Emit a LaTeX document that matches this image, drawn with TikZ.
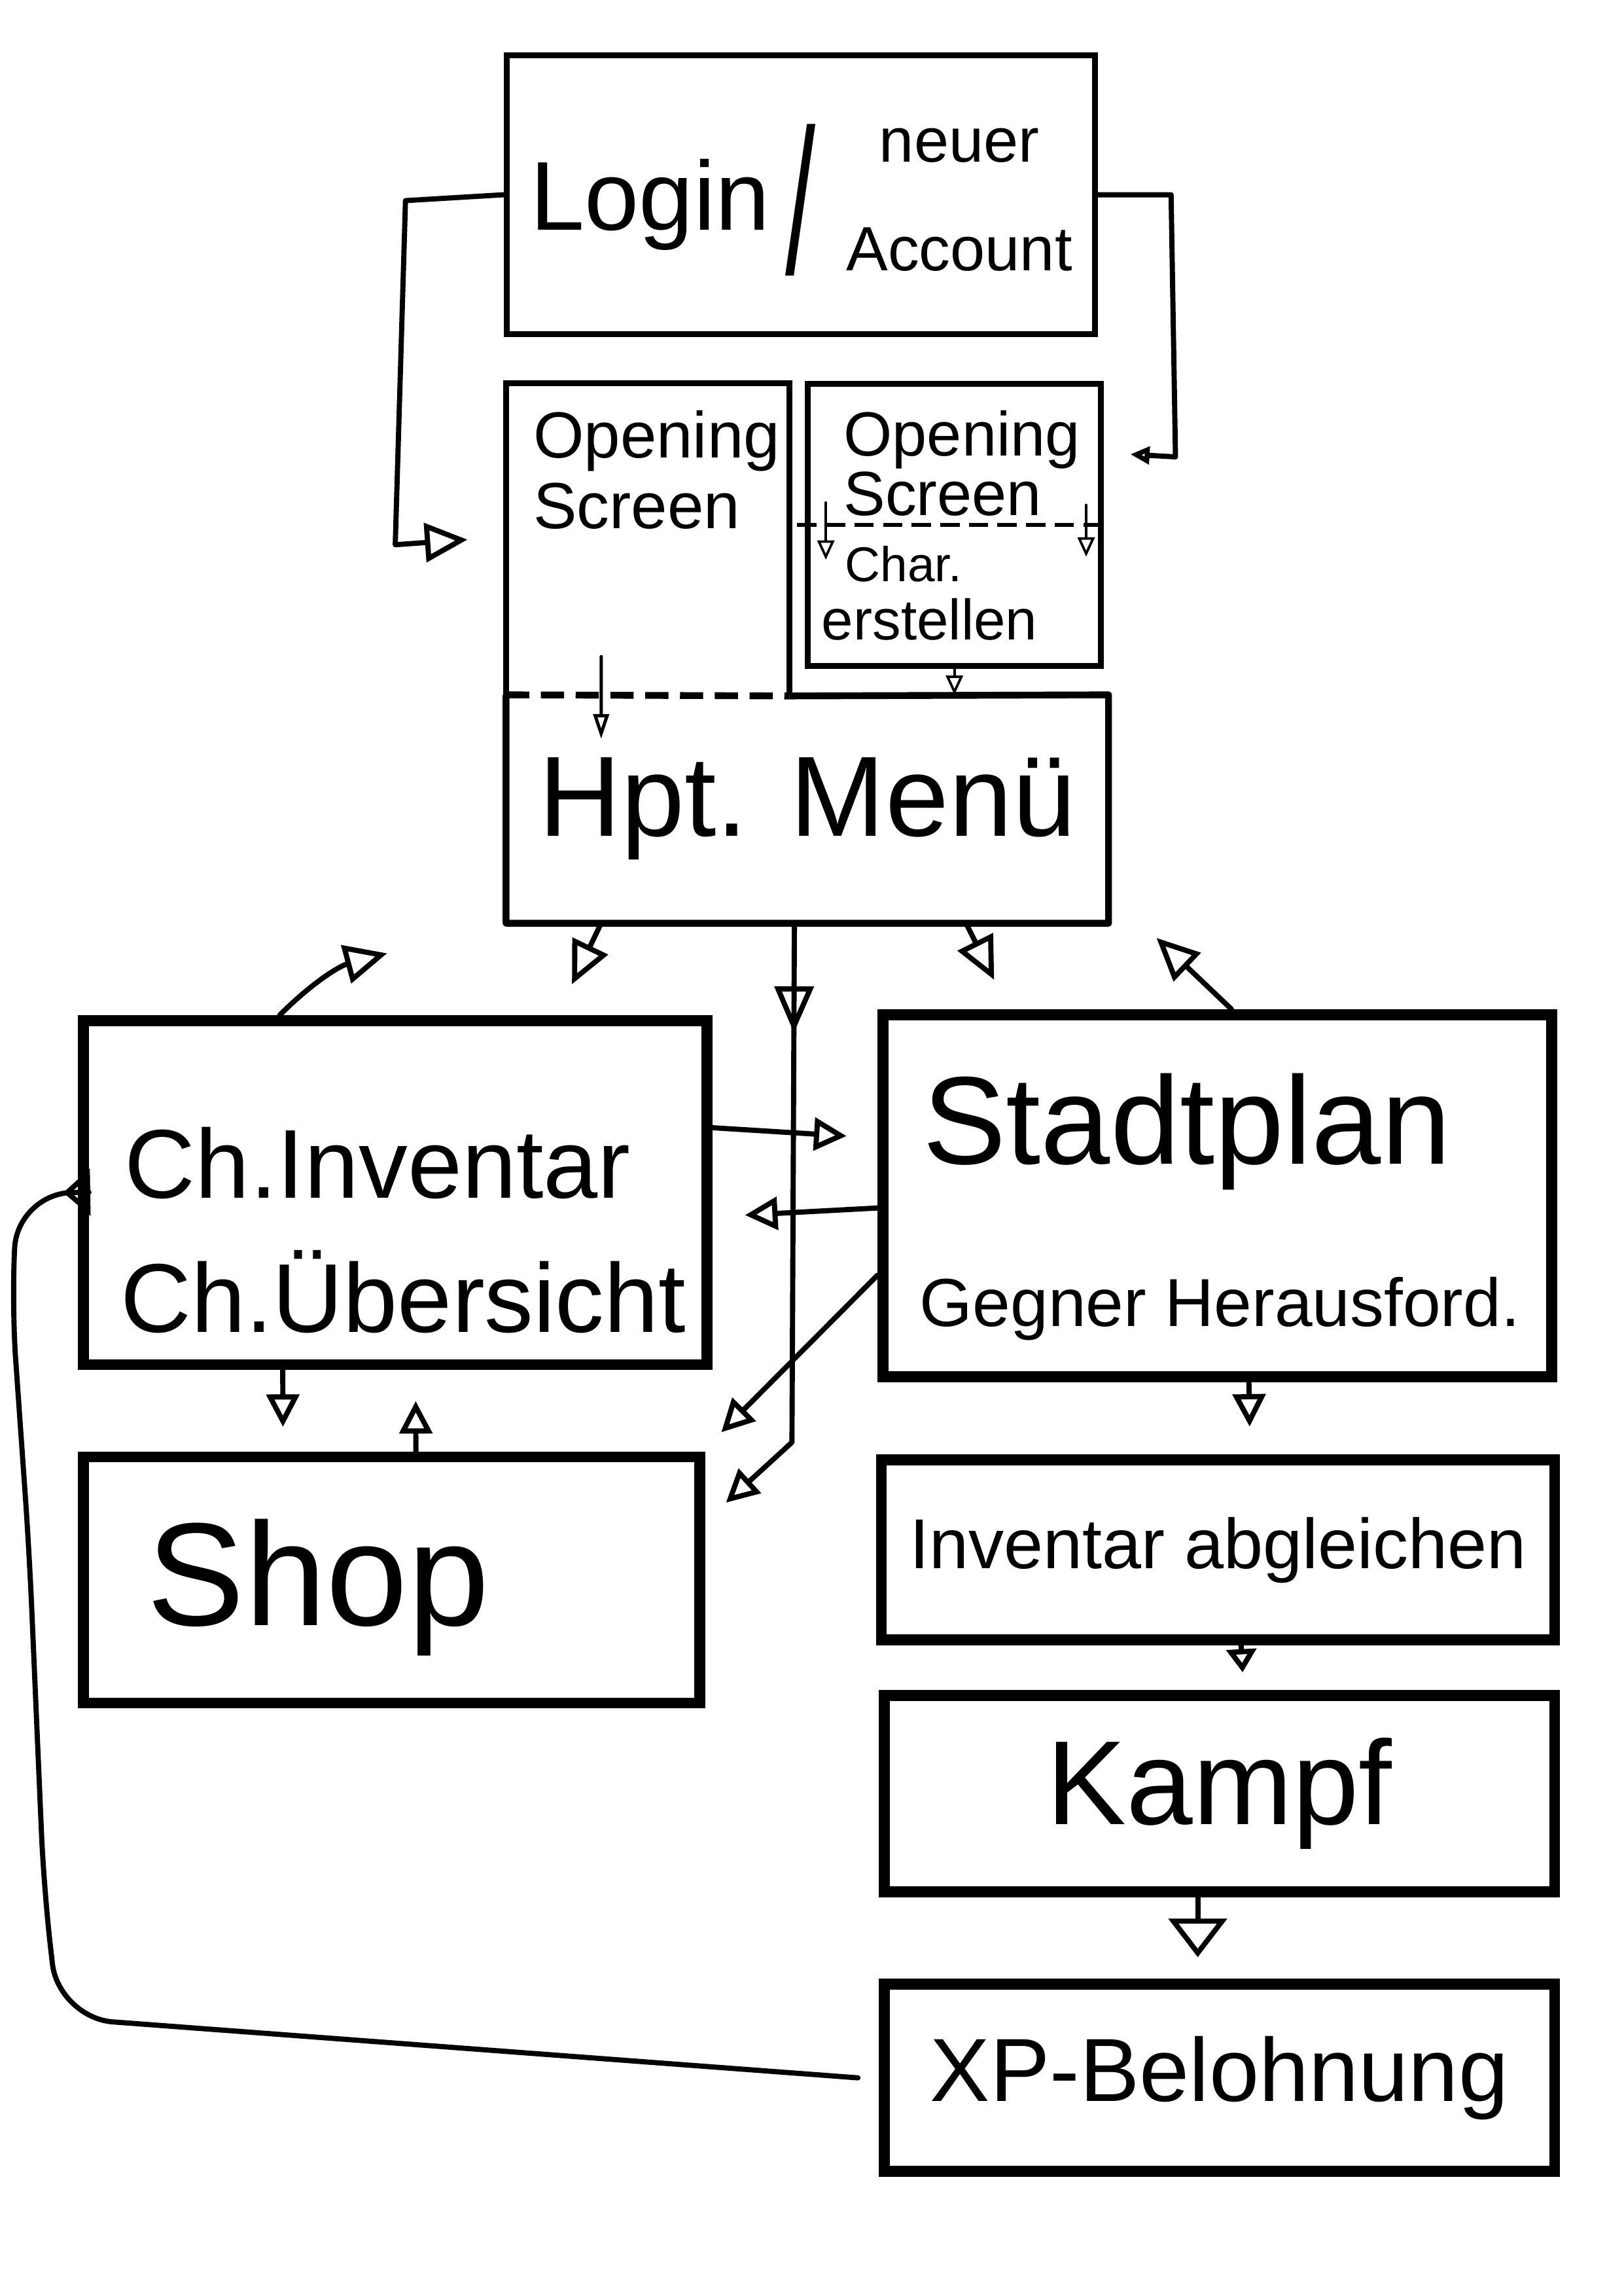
\documentclass[tikz,border=0pt]{standalone}
\usepackage{graphicx}
\usepackage{fontspec}
\setmainfont{Liberation Sans}
\usetikzlibrary{arrows.meta,decorations.markings}

\begin{document}
\begin{tikzpicture}[x=0.018936cm, y=-0.018936cm,
    box/.style={draw, line width=4pt, inner sep=0pt},
    thinbox/.style={draw, line width=2.2pt, inner sep=0pt},
    txt/.style={inner sep=0pt},
    conn/.style={line width=1.9pt, line cap=round, line join=round},
    finecon/.style={line width=0.9pt, line cap=round},
    headbig/.style={-{Triangle[open,length=0.55cm,width=0.5cm]}},
    headmid/.style={-{Triangle[open,length=0.42cm,width=0.42cm]}},
    headsmall/.style={-{Triangle[open,length=0.25cm,width=0.22cm]}}]
  \fill[white] (0,0) rectangle (1109,1568);
  \useasboundingbox (0,0) rectangle (1109,1568);

  \node[thinbox, minimum width=7.61cm, minimum height=3.60cm] (login) at (547,133) {};
  \node[txt, anchor=base west] (logintxt) at (362,157) {\fontsize{36}{36}\selectfont Login\hspace{2mm}%
    \raisebox{-0.57cm}{\fontsize{40}{40}\selectfont\scalebox{1}[1.9]{/}}\hspace{4mm}%
    \raisebox{-0.53cm}{\fontsize{23}{40}\selectfont\begin{tabular}[b]{@{}c@{}}neuer\\Account\end{tabular}}};

  \node[txt, minimum width=3.65cm, minimum height=4.03cm] (openL) at (442.5,368.5) {};
  \draw[line width=2.2pt] (openL.south west) -- (openL.north west) -- (openL.north east) -- (openL.south east);
  \node[txt, anchor=north west, align=left, font=\fontsize{24}{26}\selectfont] (openLtxt) at (364,280) {Opening\\Screen};

  \node[thinbox, minimum width=3.79cm, minimum height=3.65cm] (openR) at (652,358.5) {};
  \node[txt, anchor=north west, align=left, font=\fontsize{23}{22}\selectfont] (openRtxt) at (576,280) {Opening\\Screen};
  \node[txt, anchor=base west, font=\fontsize{18}{18}\selectfont] (char) at (577,397) {Char.};
  \node[txt, anchor=base west, font=\fontsize{21}{21}\selectfont] (erst) at (561,437) {erstellen};
  \draw[line width=1.6pt, dash pattern=on 0.25cm off 0.12cm] ([xshift=-0.1cm]openR.west) -- ([xshift=0.06cm]openR.east);
  \draw[finecon, headsmall] ([xshift=0.27cm,yshift=0.29cm]openR.west) -- ([xshift=0.27cm,yshift=-0.45cm]openR.west);
  \draw[finecon, headsmall] ([xshift=-0.23cm,yshift=0.26cm]openR.east) -- ([xshift=-0.23cm,yshift=-0.41cm]openR.east);

  \node[txt, minimum width=7.78cm, minimum height=2.94cm, font=\fontsize{42}{42}\selectfont] (menu) at (551.5,552.5) {Hpt. Menü};
  \draw[line width=2.5pt, line join=round] (openL.south east) -- (menu.north east) -- (menu.south east) -- (menu.south west) -- (menu.north west);
  \draw[line width=2.5pt, dash pattern=on 0.3cm off 0.15cm] (menu.north west) -- (openL.south east);

  \node[box, minimum width=8.07cm, minimum height=4.45cm] (chinv) at (270,814.5) {};
  \node[txt, anchor=base west, font=\fontsize{36}{36}\selectfont] (chinvA) at (85,818) {Ch.Inventar};
  \node[txt, anchor=base west, font=\fontsize{36}{36}\selectfont] (chinvB) at (82,910) {Ch.Übersicht};

  \node[box, minimum width=8.65cm, minimum height=4.68cm] (stadt) at (831.5,816.5) {};
  \node[txt, anchor=base west, font=\fontsize{46}{46}\selectfont] (stadtA) at (630,795) {Stadtplan};
  \node[txt, anchor=base west, font=\fontsize{25}{25}\selectfont] (stadtB) at (628,906) {Gegner Herausford.};

  \node[box, minimum width=7.97cm, minimum height=3.18cm] (shop) at (267.5,1079) {};
  \node[txt, anchor=base west, font=\fontsize{54}{54}\selectfont] (shoptxt) at (100,1110) {Shop};

  \node[box, minimum width=8.71cm, minimum height=2.33cm, font=\fontsize{26}{26}\selectfont] (abgl) at (832,1058.5) {Inventar abgleichen};
  \node[box, minimum width=8.67cm, minimum height=2.54cm, font=\fontsize{44}{44}\selectfont] (kampf) at (833,1225) {Kampf};
  \node[box, minimum width=8.67cm, minimum height=2.42cm, font=\fontsize{33}{33}\selectfont] (xp) at (833,1419) {XP-Belohnung};

  % login -> opening screens
  \draw[conn, headbig] (login.west) -- (277,137) -- (270,372) -- ([xshift=-0.5cm]openL.west);
  \draw[conn, headsmall] (login.east) -- (800,133) -- (803,312) -- ([xshift=0.34cm,yshift=-0.95cm]openR.north east);
  \draw[conn, line width=1.2pt, -{Triangle[open,length=0.32cm,width=0.2cm]}] ([xshift=1.23cm,yshift=0.51cm]openL.south west) -- ([xshift=1.23cm,yshift=-0.57cm]menu.north west);
  \draw[finecon, headsmall] (openR.south) -- (openR.south |- menu.north);

  % menu
  \draw[conn, headbig] ([xshift=1.23cm]menu.south west) -- ([xshift=-1.82cm,yshift=0.4cm]chinv.north east);
  \draw[conn, headbig] ([xshift=5.95cm]menu.south west) -- ([xshift=1.51cm,yshift=0.38cm]stadt.north west);
  \draw[conn, headbig] ([xshift=4.58cm]stadt.north west) -- ([xshift=0.62cm,yshift=-0.19cm]menu.south east);
  \draw[conn, headbig] ([xshift=2.61cm]chinv.north west) to[bend left=15] ([xshift=4cm,yshift=0.8cm]chinv.north west);
  \draw[conn, headmid, postaction={decorate},
    decoration={markings, mark=at position 0.18 with {\arrow{Triangle[open,length=0.6cm,width=0.5cm]}}}]
    ([xshift=3.73cm]menu.south west) -- (541,985) -- ([xshift=0.27cm,yshift=-0.66cm]shop.north east);

  % inventar, stadtplan, shop
  \draw[conn, headmid] ([yshift=0.84cm]chinv.east) -- ([xshift=-0.4cm,yshift=0.77cm]stadt.west);
  \draw[conn, headmid] ([yshift=-0.16cm]stadt.west) -- ([xshift=0.42cm,yshift=-0.29cm]chinv.east);
  \draw[conn, headmid] ([yshift=-1.03cm]stadt.west) -- ([xshift=0.21cm,yshift=0.25cm]shop.north east);
  \draw[conn, headmid] ([xshift=2.65cm]chinv.south west) -- ([xshift=2.65cm,yshift=0.32cm]shop.north west);
  \draw[conn, headmid] ([xshift=4.37cm]shop.north west) -- ([xshift=4.37cm,yshift=-0.4cm]chinv.south west);

  % kampf
  \draw[conn, headmid] ([xshift=0.41cm]stadt.south) -- ([xshift=0.41cm,yshift=0.36cm]abgl.north);
  \draw[conn, -{Triangle[open,length=0.3cm,width=0.38cm]}] ([xshift=0.3cm]abgl.south) -- ([xshift=0.3cm,yshift=0.23cm]kampf.north);
  \draw[conn, -{Triangle[open,length=0.5cm,width=0.75cm]}] ([xshift=-0.28cm]kampf.south) -- ([xshift=-0.28cm,yshift=0.28cm]xp.north);
  \draw[conn, rounded corners=20pt, -{Triangle[open,length=0.35cm,width=0.6cm]}] ([xshift=-0.27cm]xp.west) -- (40,1378) -- (30,1290) -- (20,1060) -- (8,890) -- (12,815) -- ([xshift=-0.19cm]chinv.west);
\end{tikzpicture}
\end{document}
